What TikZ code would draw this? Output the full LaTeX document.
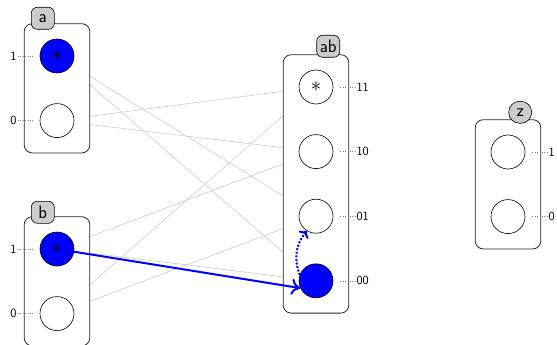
\documentclass[tikz,border=0pt]{standalone}
\usepackage{tikz}
\usetikzlibrary{arrows.meta,positioning,fit,backgrounds}
\renewcommand{\familydefault}{\sfdefault}
\pgfdeclarelayer{edges}
\pgfsetlayers{edges,background,main}

\begin{document}
\begin{tikzpicture}[x=1pt,y=1pt,font=\sffamily,
  state/.style={circle,draw,line width=0.6pt,fill=white,minimum size=34pt,inner sep=0pt,font=\fontsize{20}{20}\selectfont},
  chosen/.style={fill=blue},
  box/.style={draw=black!85,line width=0.8pt,rounded corners=8pt,fill=white,inner xsep=15.5pt,inner ysep=15pt},
  tag/.style={draw,line width=0.6pt,fill=gray!40,rounded corners=6pt,minimum height=22pt,minimum width=23pt,inner sep=2pt,font=\fontsize{18}{18}\selectfont\sffamily},
  val/.style={inner sep=1pt,font=\fontsize{12.5}{13}\selectfont\sffamily},
  valline/.style={dotted,gray,shorten <=7pt},
  link/.style={gray!40,line width=0.6pt},
  move/.style={blue,line width=2pt,-{To[length=9pt,width=16pt]}}]
  \useasboundingbox (0,0) rectangle (557,-345);

  % states of each variable
  \node[state,chosen] (a1) at (57,-56) {$\ast$};
  \node[state,below=30pt of a1] (a0) {};
  \node[state,chosen] (b1) at (57,-249) {$\ast$};
  \node[state,below=30pt of b1] (b0) {};
  \node[state] (ab11) at (316,-87) {$\ast$};
  \node[state,below=30pt of ab11] (ab10) {};
  \node[state,below=30pt of ab10] (ab01) {};
  \node[state,chosen,below=30pt of ab01] (ab00) {};
  \node[state] (z1) at (508,-152) {};
  \node[state,below=30pt of z1] (z0) {};

  \begin{scope}[on background layer]
    \node[box,fit=(a1)(a0)] (A) {};
    \node[box,fit=(b1)(b0)] (B) {};
    \node[box,fit=(ab11)(ab00)] (AB) {};
    \node[box,fit=(z1)(z0)] (Z) {};
  \end{scope}

  \node[tag] (tagA) at ([xshift=19pt,yshift=5pt]A.north west) {a};
  \node[tag] (tagB) at ([xshift=19pt,yshift=4pt]B.north west) {b};
  \node[tag] (tagAB) at ([xshift=-21pt,yshift=8pt]AB.north east) {ab};
  \node[tag,rounded corners=11pt] (tagZ) at ([xshift=-21pt,yshift=7pt]Z.north east) {z};

  % values
  \node[val,left=22pt of a1] (a1v) {1};
  \node[val,left=22pt of a0] (a0v) {0};
  \node[val,left=22pt of b1] (b1v) {1};
  \node[val,left=22pt of b0] (b0v) {0};
  \node[val,right=22pt of ab11] (ab11v) {11};
  \node[val,right=22pt of ab10] (ab10v) {10};
  \node[val,right=22pt of ab01] (ab01v) {01};
  \node[val,right=22pt of ab00] (ab00v) {00};
  \node[val,right=22pt of z1] (z1v) {1};
  \node[val,right=22pt of z0] (z0v) {0};
  \draw[valline] (a1) -- (a1v);
  \draw[valline] (a0) -- (a0v);
  \draw[valline] (b1) -- (b1v);
  \draw[valline] (b0) -- (b0v);
  \draw[valline] (ab11) -- (ab11v);
  \draw[valline] (ab10) -- (ab10v);
  \draw[valline] (ab01) -- (ab01v);
  \draw[valline] (ab00) -- (ab00v);
  \draw[valline] (z1) -- (z1v);
  \draw[valline] (z0) -- (z0v);

  % compatible pairs, hidden under the boxes
  \begin{pgfonlayer}{edges}
    \draw[link] (a1) -- (ab01);
    \draw[link] (a1) -- (ab00);
    \draw[link] (a0) -- (ab11);
    \draw[link] (a0) -- (ab10);
    \draw[link] (b1) -- (ab10);
    \draw[link] (b1) -- (ab00);
    \draw[link] (b0) -- (ab11);
    \draw[link] (b0) -- (ab01);
  \end{pgfonlayer}

  \draw[move] (b1) -- (ab00.205);
  \draw[move,-{To[length=6pt,width=12pt]},dash pattern=on 2pt off 1.6pt] (ab00.160) to[bend left=30] (ab01.238);
\end{tikzpicture}
\end{document}
